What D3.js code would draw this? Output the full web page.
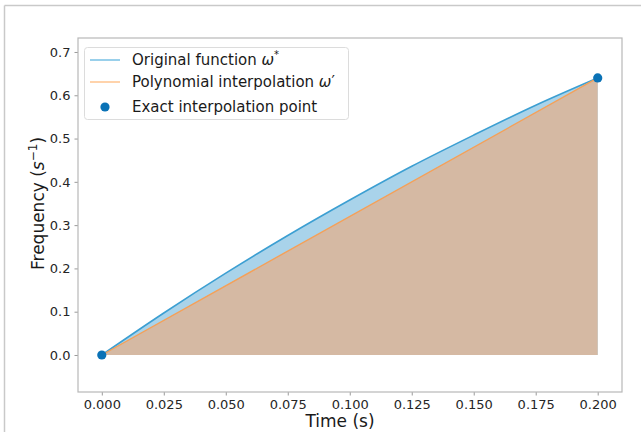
<!DOCTYPE html>
<html>
<head>
<meta charset="utf-8">
<script src="https://cdn.jsdelivr.net/npm/d3@7"></script>
<style>
  body { margin: 0; background: #fff; }
  text { font-family: "DejaVu Sans", sans-serif; }
</style>
</head>
<body>
<div id="chart"></div>
<script>
// values
const timeValues = [0, 0.025, 0.05, 0.075, 0.1, 0.125, 0.15, 0.175, 0.2];
const originalValues = [0, 0.097, 0.189, 0.276, 0.358, 0.436, 0.508, 0.577, 0.64];
const interpTime = [0, 0.2];
const interpValues = [0, 0.64];
const xTicks = [0, 0.025, 0.05, 0.075, 0.1, 0.125, 0.15, 0.175, 0.2];
const yTicks = [0, 0.1, 0.2, 0.3, 0.4, 0.5, 0.6, 0.7];

const W = 641, H = 432;
const margin = {top: 38, right: 19, bottom: 40, left: 78},
  width = W - margin.left - margin.right,
  height = H - margin.top - margin.bottom;

const root = d3.select("#chart").append("svg")
  .attr("width", W).attr("height", H);

// outer frame (only top and left edges visible)
root.append("line").attr("x1", 4.5).attr("x2", W).attr("y1", 5.5).attr("y2", 5.5)
  .attr("stroke", "#c9c9c9").attr("stroke-width", 1.5);
root.append("line").attr("x1", 4.5).attr("x2", 4.5).attr("y1", 5.5).attr("y2", H)
  .attr("stroke", "#c9c9c9").attr("stroke-width", 1.5);

const svg = root.append("g").attr("transform", `translate(${margin.left},${margin.top})`);

const x = d3.scaleLinear().domain([-0.0096, 0.2098]).range([0, width]);
const y = d3.scaleLinear().domain([-0.0855, 0.7323]).range([height, 0]);

const orig = timeValues.map((t, i) => ({t: t, v: originalValues[i]}));
const interp = interpTime.map((t, i) => ({t: t, v: interpValues[i]}));

const area = d3.area().x(d => x(d.t)).y0(y(0)).y1(d => y(d.v)).curve(d3.curveMonotoneX);
const line = d3.line().x(d => x(d.t)).y(d => y(d.v)).curve(d3.curveMonotoneX);

// fills
svg.append("path").datum(orig).attr("d", area).attr("fill", "#a9d3ea");
svg.append("path").datum(interp).attr("d", area).attr("fill", "#d5b9a3");

// lines
svg.append("path").datum(orig).attr("d", line)
  .attr("fill", "none").attr("stroke", "#3c9fd2").attr("stroke-width", 1.6);
svg.append("path").datum(interp).attr("d", line)
  .attr("fill", "none").attr("stroke", "#f5a058").attr("stroke-width", 1.4);

// exact interpolation points
svg.selectAll("circle.pt").data(interp).join("circle")
  .attr("class", "pt")
  .attr("cx", d => x(d.t)).attr("cy", d => y(d.v)).attr("r", 4.6)
  .attr("fill", "#0a72b6");

// axes
const xAxis = svg.append("g").attr("transform", `translate(0,${height})`)
  .call(d3.axisBottom(x).tickValues(xTicks).tickFormat(d3.format(".3f")).tickSizeOuter(0).tickSize(3.5).tickPadding(4));
const yAxis = svg.append("g")
  .call(d3.axisLeft(y).tickValues(yTicks).tickFormat(d3.format(".1f")).tickSizeOuter(0).tickSize(3.5).tickPadding(4));

[xAxis, yAxis].forEach(a => {
  a.select(".domain").remove();
  a.selectAll(".tick line").attr("stroke", "#9a9a9a");
  a.selectAll(".tick text").attr("fill", "#262626").style("font-size", "13px")
    .style("font-family", "'DejaVu Sans', sans-serif");
});

// spines
svg.append("rect").attr("x", 0).attr("y", 0).attr("width", width).attr("height", height)
  .attr("fill", "none").attr("stroke", "#b8b8b8").attr("stroke-width", 1.2);

// axis labels
root.append("text")
  .attr("x", margin.left + width / 2 - 10).attr("y", 427)
  .attr("text-anchor", "middle").attr("fill", "#1a1a1a").style("font-size", "17px")
  .text("Time (s)");

const yl = root.append("text")
  .attr("transform", `translate(44,${margin.top + y(0.35)}) rotate(-90)`)
  .attr("text-anchor", "middle").attr("fill", "#1a1a1a").style("font-size", "17px");
yl.append("tspan").text("Frequency (");
yl.append("tspan").style("font-style", "italic").text("s");
yl.append("tspan").attr("dy", -7).style("font-size", "12px").text("\u22121");
yl.append("tspan").attr("dy", 7).text(")");

// legend
const lg = root.append("g").attr("transform", "translate(84,47)");
lg.append("rect").attr("x", 0.5).attr("y", 0.5).attr("width", 264).attr("height", 72).attr("rx", 3)
  .attr("fill", "#fff").attr("fill-opacity", 0.85).attr("stroke", "#dcdcdc");

const legendItems = [
  {name: "Original function ", sym: "\u03c9", sup: "*", kind: "line", color: "#7fc5e6"},
  {name: "Polynomial interpolation ", sym: "\u03c9", sup: "\u2032", kind: "line", color: "#ffc996"},
  {name: "Exact interpolation point", sym: "", sup: "", kind: "dot", color: "#0a72b6"}
];
const rowY = [13, 35, 60];
legendItems.forEach((it, i) => {
  const g = lg.append("g").attr("transform", `translate(0,${rowY[i]})`);
  if (it.kind === "line") {
    g.append("line").attr("x1", 6).attr("x2", 36).attr("stroke", it.color).attr("stroke-width", 1.6);
  } else {
    g.append("circle").attr("cx", 21).attr("r", 4.6).attr("fill", it.color);
  }
  const t = g.append("text").attr("x", 48).attr("dy", "0.35em")
    .attr("fill", "#1a1a1a").style("font-size", "15px");
  t.append("tspan").text(it.name);
  if (it.sym) {
    t.append("tspan").style("font-style", "italic").text(it.sym);
    if (it.sup === "*") {
      t.append("tspan").attr("dy", -7).style("font-size", "10px").text(it.sup);
    } else {
      t.append("tspan").text(it.sup);
    }
  }
});
</script>
</body>
</html>
